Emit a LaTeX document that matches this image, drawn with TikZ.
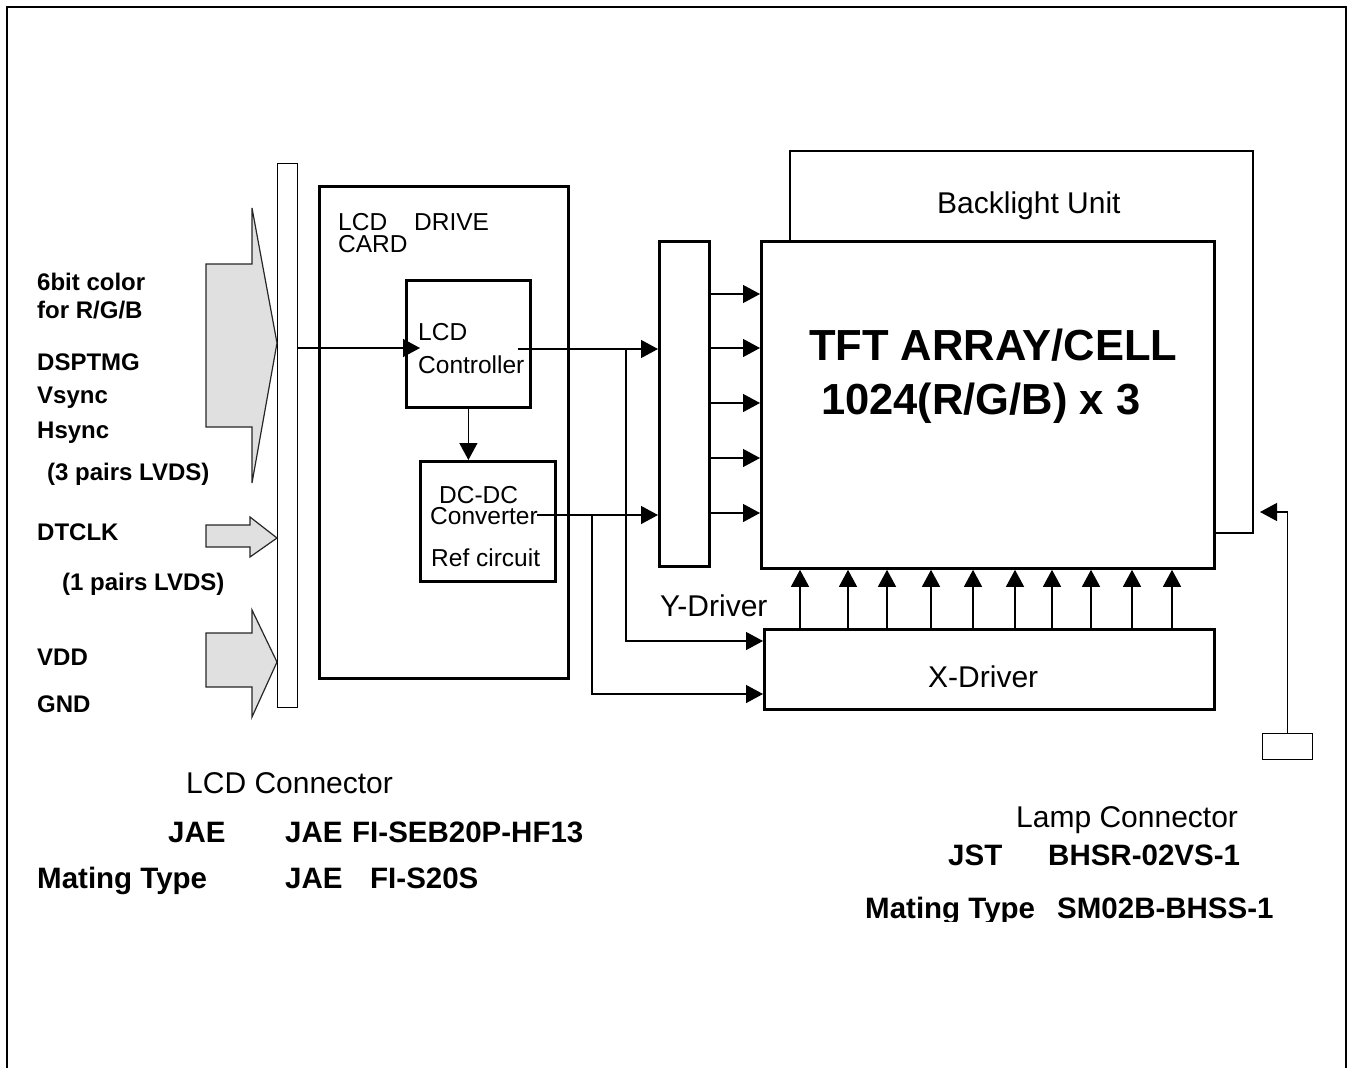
\documentclass[tikz,border=0pt]{standalone}
\usepackage{fontspec}
\setmainfont{Liberation Sans}
\usetikzlibrary{arrows.meta}

\tikzset{
  blk/.style={draw,line width=2.8pt,inner sep=0pt,anchor=north west},
  thinblk/.style={draw,line width=1.3pt,inner sep=0pt,anchor=north west},
  wire/.style={line width=1.3pt},
  arr/.style={wire,-{Triangle[length=17pt,width=18pt]}},
  bigarrow/.style={fill=black!12,draw=black!85,line width=1.2pt},
  lbl/.style={anchor=base west,inner sep=0pt,font=\fontsize{24pt}{26pt}\selectfont\bfseries},
  part/.style={anchor=base west,inner sep=0pt,font=\fontsize{29.5pt}{31pt}\selectfont\bfseries},
  txt/.style={anchor=base west,inner sep=0pt,font=\fontsize{30pt}{32pt}\selectfont},
  small/.style={anchor=base west,inner sep=0pt,align=left,font=\fontsize{24.5pt}{22pt}\selectfont},
  big/.style={anchor=base west,inner sep=0pt,font=\fontsize{43.5pt}{48pt}\selectfont\bfseries},
}

\begin{document}
\begin{tikzpicture}[x=1pt,y=-1pt]
    \useasboundingbox (0,0) rectangle (1354,1068);
    % frame, open at the bottom
    \draw[line width=2.5pt] (7,1068) -- (7,7) -- (1346,7) -- (1346,1068);

    % blocks
    \node[thinblk,minimum width=20pt,minimum height=544pt] (bar) at (277,163) {};
    \node[blk,minimum width=249pt,minimum height=492pt] (card) at (318,185) {};
    \node[blk,minimum width=124pt,minimum height=127pt] (ctrl) at (405,279) {};
    \node[blk,minimum width=135pt,minimum height=120pt] (dcdc) at (419,460) {};
    \node[blk,minimum width=50pt,minimum height=325pt] (ybar) at (658,240) {};
    \node[blk,minimum width=453pt,minimum height=327pt] (tft) at (760,240) {};
    \node[blk,minimum width=450pt,minimum height=80pt] (xdrv) at (763,628) {};
    \node[thinblk,minimum width=50pt,minimum height=26pt] (lamp) at (1262,733) {};

    % input arrows
    \draw[bigarrow] (206,264) -- (252,264) -- (252,208) -- (277,343)
      -- (252,483) -- (252,427) -- (206,427) -- cycle;
    \draw[bigarrow] (206,525) -- (250,525) -- (250,517) -- (277,538)
      -- (250,557) -- (250,547) -- (206,547) -- cycle;
    \draw[bigarrow] (206,633) -- (252,633) -- (252,610) -- (277,662)
      -- (252,717) -- (252,687) -- (206,687) -- cycle;

    % signal lines
    \coordinate (ctrlin) at (420,348);
    \draw[arr] (bar.east |- ctrlin) -- (ctrlin);
    \coordinate (ctrlout) at (518,349);
    \coordinate (brA) at (626,349);
    \coordinate (xinA) at (763,641);
    \draw[arr] (ctrlout) -- (ybar.west |- ctrlout);
    \draw[arr] (brA) |- (xdrv.west |- xinA);
    \draw[arr] (ctrl.south) -- (ctrl.south |- dcdc.north);
    \coordinate (dcout) at (537,515);
    \coordinate (brB) at (592,515);
    \coordinate (xinB) at (763,694);
    \draw[arr] (dcout) -- (ybar.west |- dcout);
    \draw[arr] (brB) |- (xdrv.west |- xinB);
    \foreach \y [count=\i] in {294,348,403,458,513}{
      \coordinate (r\i) at (735,\y);
      \draw[arr] (ybar.east |- r\i) -- (tft.west |- r\i);
    }
    \foreach \x [count=\i] in {800,848,887,931,973,1015,1052,1091,1132,1172}{
      \coordinate (c\i) at (\x,600);
      \draw[arr] (xdrv.north -| c\i) -- (tft.south -| c\i);
    }

    % backlight and lamp
    \coordinate (blL) at (790,151);
    \coordinate (blR) at (1253,151);
    \coordinate (blB) at (1253,533);
    \draw[wire] (tft.north -| blL) -- (blL) -- (blR) -- (blB) -- (tft.east |- blB);
    \coordinate (lampin) at (1260,512);
    \draw[arr] (lamp.north) |- (lampin);

    % texts
    \node[lbl] (t1) at (37,290) {6bit color};
    \node[lbl] (t2) at (37,318) {for R/G/B};
    \node[lbl] (t3) at (37,370) {DSPTMG};
    \node[lbl] (t4) at (37,403) {Vsync};
    \node[lbl] (t5) at (37,438) {Hsync};
    \node[lbl] (t6) at (47,480) {(3 pairs LVDS)};
    \node[lbl] (t7) at (37,540) {DTCLK};
    \node[lbl] (t8) at (62,590) {(1 pairs LVDS)};
    \node[lbl] (t9) at (37,665) {VDD};
    \node[lbl] (t10) at (37,712) {GND};

    \node[small] (cardlbl) at (338,252) {LCD\hspace{27pt}DRIVE\\CARD};
    \node[small] (ctrllbl) at (418,340) {LCD};
    \node[small] (ctrllbl2) at (418,373) {Controller};
    \node[small] (dclbl) at (439,503) {DC-DC};
    \node[small] (dclbl2) at (430,524) {Converter};
    \node[small] (dclbl3) at (431,566) {Ref circuit};

    \node[big] (tft1) at (809,360) {TFT ARRAY/CELL};
    \node[big] (tft2) at (821,414) {1024(R/G/B) x 3};
    \node[txt] (bltxt) at (937,213) {Backlight Unit};
    \node[txt] (ytxt) at (660,616) {Y-Driver};
    \node[txt] (xtxt) at (928,687) {X-Driver};

    % connector parts
    \node[txt] (lcdcon) at (186,793) {LCD Connector};
    \node[part] (p1) at (168,842) {JAE};
    \node[part] (p2) at (285,842) {JAE};
    \node[part] (p3) at (352,842) {FI-SEB20P-HF13};
    \node[part] (p4) at (37,888) {Mating Type};
    \node[part] (p5) at (285,888) {JAE};
    \node[part] (p6) at (370,888) {FI-S20S};

    \node[txt] (lampcon) at (1016,827) {Lamp Connector};
    \node[part] (q1) at (948,865) {JST};
    \node[part] (q2) at (1048,865) {BHSR-02VS-1};
    \begin{scope}
      \clip (850,880) rectangle (1300,921);
      \node[part] (q3) at (865,918) {Mating Type};
      \node[part] (q4) at (1057,918) {SM02B-BHSS-1};
    \end{scope}
\end{tikzpicture}
\end{document}
